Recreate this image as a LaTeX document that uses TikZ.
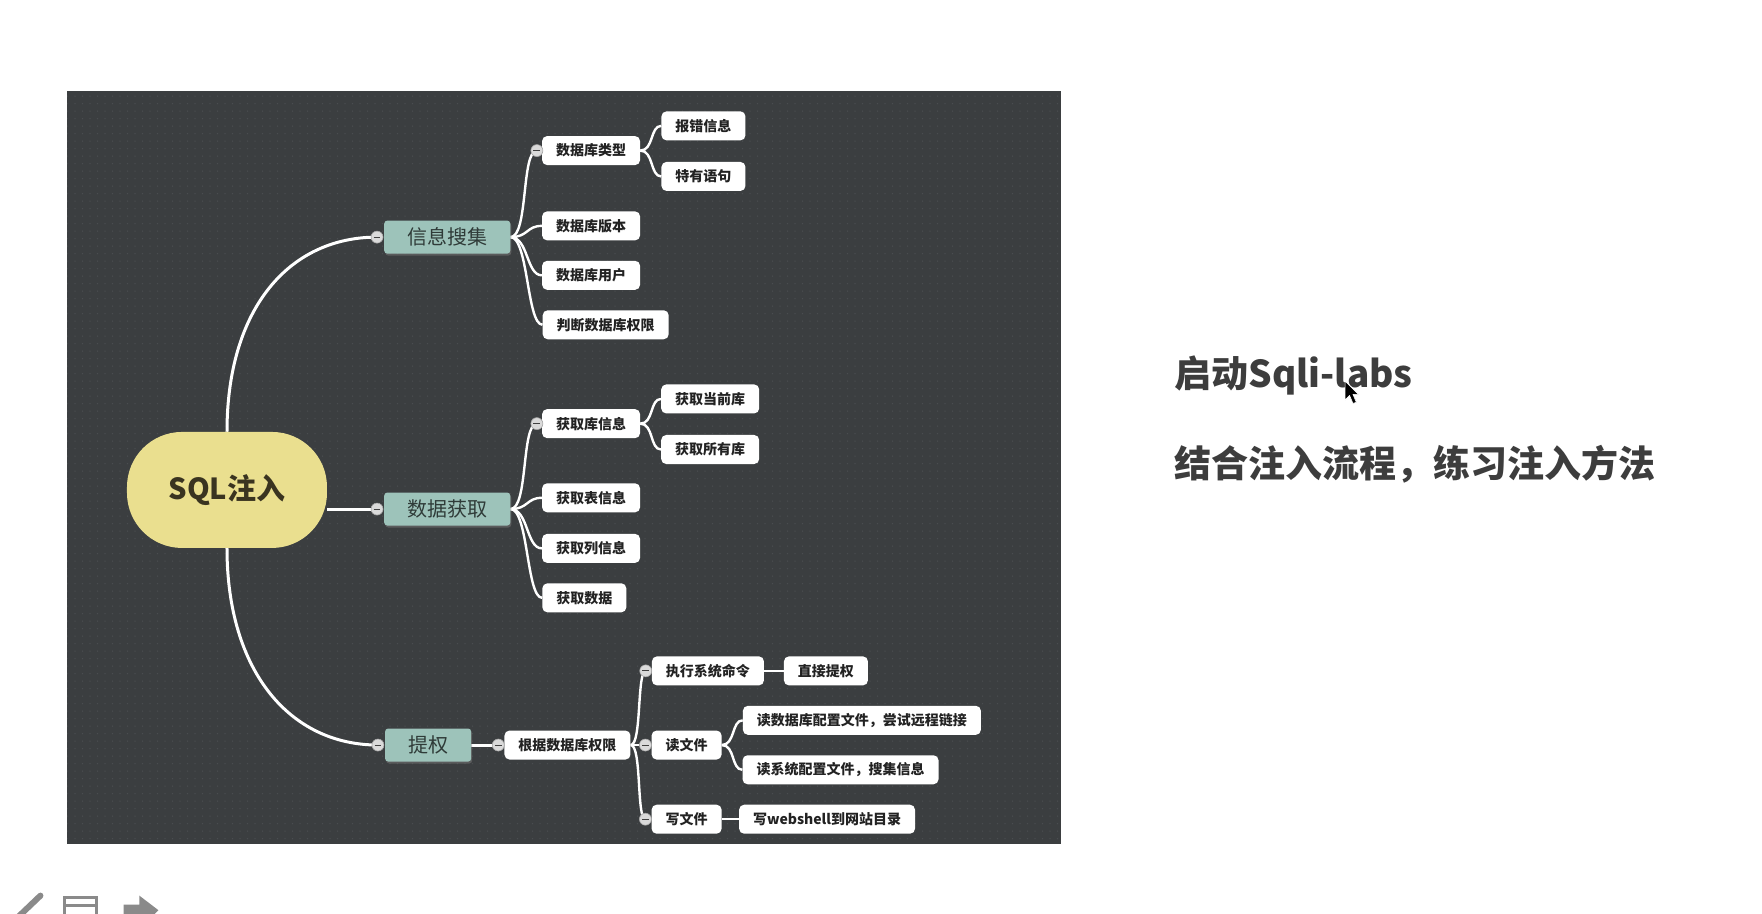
\documentclass[tikz,border=0pt]{standalone}
\usepackage{fontspec}
\usetikzlibrary{shadows,patterns.meta}
\newfontfamily\cjk{Noto Sans CJK SC}
\definecolor{panelbg}{HTML}{3B3E40}
\definecolor{paneldot}{HTML}{4A4D50}
\definecolor{rootfill}{HTML}{EADF8F}
\definecolor{rootText}{HTML}{3A3420}
\definecolor{tealfill}{HTML}{9DC3BA}
\definecolor{tealText}{HTML}{2F3B38}
\definecolor{leafText}{HTML}{222222}
\definecolor{sideText}{HTML}{3D3D3D}
\definecolor{iconGray}{HTML}{8A8A8A}
\definecolor{dotfill}{HTML}{DADADA}
\pgfdeclarelayer{bottomlayer}
\pgfdeclarelayer{background}
\pgfsetlayers{bottomlayer,background,main}
\tikzdeclarepattern{
  name=griddots, type=uncolored,
  bottom left={(-1pt,-1pt)}, top right={(7pt,7pt)}, tile size={(7.5pt,7.5pt)},
  code={\fill (0pt,0pt) circle (0.75pt);}
}
\tikzset{
  root/.style={fill=rootfill, rounded corners=55pt, minimum width=200pt, minimum height=116pt,
    font=\cjk\bfseries\fontsize{29}{32}\selectfont, text=rootText, inner sep=0pt},
  lvlone/.style={fill=tealfill, rounded corners=3pt, minimum height=33pt, inner xsep=23pt, inner ysep=0pt,
    font=\cjk\fontsize{20}{22}\selectfont, text=tealText,
    drop shadow={opacity=0.45, shadow xshift=1pt, shadow yshift=-2pt}},
  leaf/.style={fill=white, rounded corners=5pt, minimum height=29pt, inner xsep=14pt, inner ysep=0pt,
    font=\cjk\bfseries\fontsize{14}{16}\selectfont, text=leafText},
  knob/.style={circle, fill=dotfill, draw=gray!70, line width=0.6pt, minimum size=12pt, inner sep=0pt,
    path picture={\draw[gray!50!black, line width=1pt]
      ([xshift=-3.4pt]path picture bounding box.center) -- ([xshift=3.4pt]path picture bounding box.center);}},
  mainconn/.style={white, line width=3pt},
  subconn/.style={white, line width=2.4pt},
  sidetext/.style={anchor=west, font=\cjk\bfseries\fontsize{37}{42}\selectfont, text=sideText, inner sep=0pt},
}
\begin{document}
\begin{tikzpicture}[x=1.1237pt, y=-1.1237pt]
\useasboundingbox (0,0) rectangle (1568,813);
\begin{pgfonlayer}{bottomlayer}
  \fill[white] (0,0) rectangle (1568,813);
  \fill[panelbg] (60,81) rectangle (944,751);
  \fill[pattern=griddots, pattern color=paneldot] (60,81) rectangle (944,751);
\end{pgfonlayer}

% root
\node[root] (sql) at (202,436) {SQL注入};

% level one
\node[lvlone] (info) at (398,211) {信息搜集};
\node[lvlone] (data) at (398,453) {数据获取};
\node[lvlone] (priv) at (381,663) {提权};
\node[knob] (kinfo) at ([xshift=-7pt]info.west) {};
\node[knob] (kdata) at ([xshift=-7pt]data.west) {};
\node[knob] (kpriv) at ([xshift=-7pt]priv.west) {};

% info children
\node[leaf] (dbtype) at (526,134) {数据库类型};
\node[leaf] (errinfo) at (626,112) {报错信息};
\node[leaf] (special) at (626,157) {特有语句};
\node[leaf] (dbver) at (526,201) {数据库版本};
\node[leaf] (dbuser) at (526,245) {数据库用户};
\node[leaf] (dbperm) at (539,289) {判断数据库权限};
\node[knob] (kdbtype) at ([xshift=-5pt]dbtype.west) {};

% data children
\node[leaf] (libinfo) at (526,377) {获取库信息};
\node[leaf] (curlib) at (632,355) {获取当前库};
\node[leaf] (alllib) at (632,400) {获取所有库};
\node[leaf] (tblinfo) at (526,443) {获取表信息};
\node[leaf] (colinfo) at (526,488) {获取列信息};
\node[leaf] (getdata) at (520,532) {获取数据};
\node[knob] (klibinfo) at ([xshift=-5pt]libinfo.west) {};

% priv children
\node[leaf] (byperm) at (505,663) {根据数据库权限};
\node[knob] (kbyperm) at ([xshift=-6pt]byperm.west) {};
\node[leaf] (exec) at (630,597) {执行系统命令};
\node[leaf] (direct) at (735,597) {直接提权};
\node[leaf] (readf) at (611,663) {读文件};
\node[leaf] (readdb) at (767,641) {读数据库配置文件，尝试远程链接};
\node[leaf] (readsys) at (748,685) {读系统配置文件，搜集信息};
\node[leaf] (writef) at (611,729) {写文件};
\node[leaf] (wshell) at (736,729) {写webshell到网站目录};
\node[knob] (kexec) at ([xshift=-6pt]exec.west) {};
\node[knob] (kreadf) at ([xshift=-6pt]readf.west) {};
\node[knob] (kwritef) at ([xshift=-6pt]writef.west) {};

\begin{pgfonlayer}{background}
  % root to level one
  \draw[mainconn] (sql.north) .. controls +(0,-110) and +(-78,0) .. (kinfo.center);
  \draw[mainconn] (kdata.center) -- (kdata.center -| sql.east);
  \draw[mainconn] (sql.south) .. controls +(0,110) and +(-78,0) .. (kpriv.center);
  % info
  \foreach \t in {kdbtype.center, dbver.west, dbuser.west, dbperm.west}
    \draw[subconn] (info.east) .. controls +(16,0) and +(-14,0) .. (\t);
  \foreach \t in {errinfo.west, special.west}
    \draw[subconn] (dbtype.east) .. controls +(12,0) and +(-10,0) .. (\t);
  % data
  \foreach \t in {klibinfo.center, tblinfo.west, colinfo.west, getdata.west}
    \draw[subconn] (data.east) .. controls +(16,0) and +(-14,0) .. (\t);
  \foreach \t in {curlib.west, alllib.west}
    \draw[subconn] (libinfo.east) .. controls +(12,0) and +(-10,0) .. (\t);
  % priv
  \draw[mainconn] (priv.east) -- (kbyperm.center);
  \foreach \t in {kexec.center, kreadf.center, kwritef.center}
    \draw[subconn] (byperm.east) .. controls +(10,0) and +(-8,0) .. (\t);
  \draw[subconn] (exec.east) -- (direct.west);
  \foreach \t in {readdb.west, readsys.west}
    \draw[subconn] (readf.east) .. controls +(12,0) and +(-10,0) .. (\t);
  \draw[subconn] (writef.east) -- (wshell.west);
\end{pgfonlayer}

% side text
\node[sidetext] (t1) at (1045,334) {启动Sqli-labs};
\node[sidetext] (t2) at (1045,413) {结合注入流程，练习注入方法};

% mouse cursor
\filldraw[fill=black, draw=white, line width=0.6pt]
  (1197,339) -- (1197,356) -- (1201,352) -- (1204,359) -- (1207,358) -- (1204,351) -- (1209,351) -- cycle;

% bottom-left toolbar fragments
\begin{scope}
  \clip (0,0) rectangle (1568,813);
  \draw[iconGray, line width=6pt, line cap=round] (14,818) -- (36,797);
  \draw[iconGray, line width=3pt] (57,816) -- (57,799) -- (86,799) -- (86,816);
  \draw[iconGray, line width=3pt] (57,806) -- (86,806);
  \fill[iconGray] (110,816) -- (110,805) -- (124,805) -- (124,797) -- (141,810) -- (135,816) -- cycle;
\end{scope}
\end{tikzpicture}
\end{document}
